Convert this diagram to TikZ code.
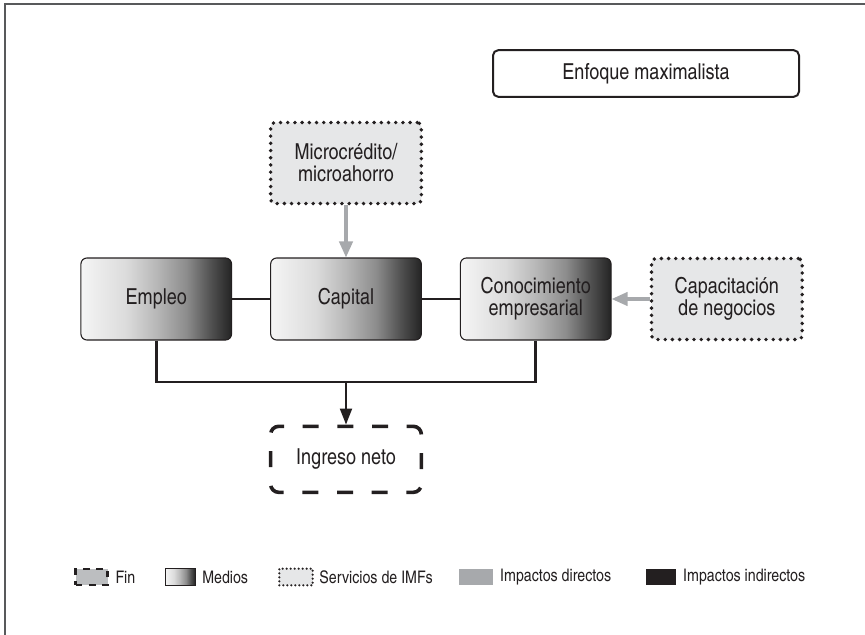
\documentclass[tikz,border=0pt]{standalone}
\usepackage{fontspec}
\setmainfont{TeX Gyre Heros Cn}
\usetikzlibrary{arrows.meta, positioning}

\definecolor{inkdark}{HTML}{231F20}
\definecolor{directgray}{HTML}{A7A9AC}
\definecolor{servfill}{HTML}{E6E7E8}
\definecolor{finfill}{HTML}{BCBEC0}
\definecolor{framegray}{HTML}{58595B}

\pgfdeclarehorizontalshading{medios}{100bp}{color(0bp)=(white); color(25bp)=(white!96!black); color(40bp)=(black!14); color(50bp)=(black!28); color(60bp)=(black!45); color(68bp)=(black!68); color(75bp)=(black!86); color(100bp)=(black!86)}

\tikzset{
    medio/.style={rectangle, draw=inkdark, line width=0.8pt, rounded corners=4.5pt, shading=medios, minimum width=113pt, minimum height=61.5pt, align=center, inner sep=2pt},
    servicio/.style={rectangle, draw=inkdark, fill=servfill, line width=2.9pt, dash pattern=on 0pt off 5.4pt, line cap=round, rounded corners=3pt, minimum width=113pt, minimum height=60.75pt, align=center},
    fin/.style={rectangle, draw=inkdark, line width=2.7pt, dash pattern=on 12pt off 14pt, dash phase=7pt, rounded corners=6pt, minimum width=113pt, minimum height=49.5pt, align=center},
    enlace/.style={draw=inkdark, line width=2pt},
    directo/.style={draw=directgray, line width=2.4pt, -{Triangle[width=10pt,length=12pt]}},
    legendtext/.style={font=\fontsize{13}{14}\selectfont, inner sep=0pt, text=inkdark},
    legendbox/.style={rectangle, inner sep=0pt, minimum height=12.5pt}
}

\begin{document}
\begin{tikzpicture}[x=0.75pt, y=-0.75pt, node distance=28.5pt, font=\fontsize{16.5}{16.5}\selectfont, every node/.style={text=inkdark}]
    \useasboundingbox (0,0) rectangle (865,635);

    % Frame
    \draw[framegray, line width=1.2pt] (5,635) -- (5,4) -- (865,4);

    % Title box
    \node (Enfoque) [rectangle, draw=inkdark, line width=1.5pt, rounded corners=4pt, minimum width=229.5pt, minimum height=35pt] at (646,73.5) {Enfoque maximalista};

    % Medios
    \node (Capital) [medio] at (346,299) {Capital};
    \node (Empleo) [medio, left=of Capital] {Empleo};
    \node (Conocimiento) [medio, right=of Capital] {Conocimiento\\empresarial};

    % Servicios de IMFs
    \node (Capacitacion) [servicio, right=of Conocimiento] {Capacitación\\de negocios};
    \node (Microcredito) [servicio, above=39pt of Capital] {Microcrédito/\\microahorro};

    % Fin
    \node (Ingreso) [fin, below=63pt of Capital] {Ingreso neto};

    % Connectors
    \coordinate (bus) at (346,382);
    \draw[enlace] (Empleo) -- (Capital);
    \draw[enlace] (Capital) -- (Conocimiento);
    \draw[enlace] (Empleo.south) |- (bus) -| (Conocimiento.south);
    \draw[enlace, line width=1.5pt, -{Triangle[width=9pt,length=12pt]}] (bus) -- (Ingreso.north);
    \draw[directo] (Microcredito) -- (Capital);
    \draw[directo] (Capacitacion) -- (Conocimiento);

    % Legend
    \node (finbox) [legendbox, draw=inkdark, fill=finfill, line width=1.6pt, dash pattern=on 5pt off 5pt, minimum width=24pt] at (91.5,577) {};
    \node (finlab) [legendtext, right=5pt of finbox] {Fin};
    \node (mediobox) [legendbox, draw=inkdark, line width=0.5pt, shading=medios, minimum width=22.5pt] at (180,577) {};
    \node (mediolab) [legendtext, right=5pt of mediobox] {Medios};
    \node (servbox) [legendbox, draw=inkdark, fill=servfill, line width=1.8pt, dash pattern=on 0pt off 3pt, line cap=round, minimum width=25pt] at (296,577) {};
    \node (servlab) [legendtext, right=4pt of servbox] {Servicios de IMFs};
    \node (directbox) [legendbox, fill=directgray, minimum width=25.5pt] at (476,577) {};
    \node (directlab) [legendtext, right=5pt of directbox] {Impactos directos};
    \node (indirectbox) [legendbox, fill=inkdark, minimum width=22.5pt] at (661,577) {};
    \node (indirectlab) [legendtext, right=5pt of indirectbox] {Impactos indirectos};
\end{tikzpicture}
\end{document}
